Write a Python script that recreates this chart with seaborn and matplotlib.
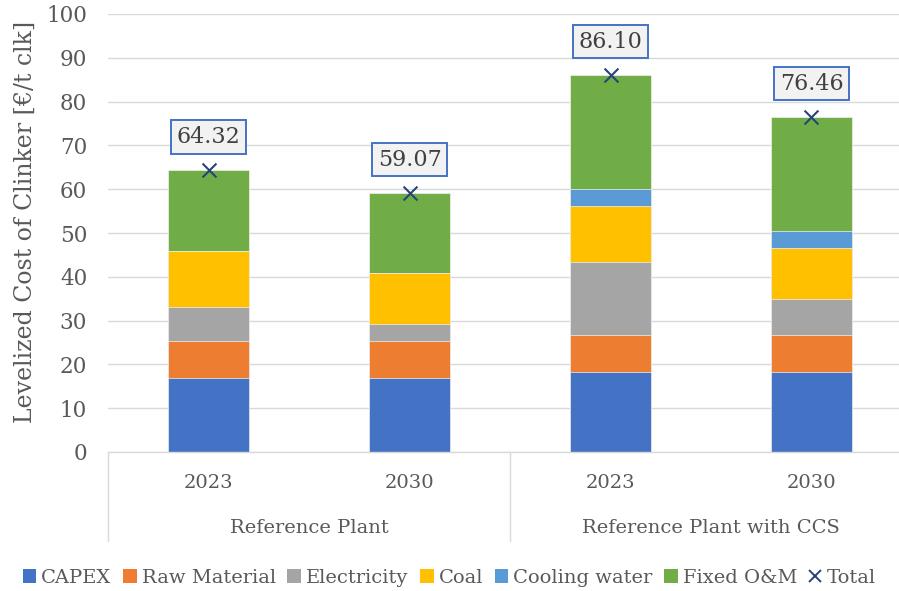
import matplotlib
matplotlib.use("Agg")
import matplotlib.pyplot as plt
import matplotlib.transforms as mtransforms
from matplotlib.lines import Line2D
from matplotlib.patches import Patch
import seaborn as sns
import pandas as pd
import numpy as np

# ---- data ----
bar_ids = ["RP-2023", "RP-2030", "CCS-2023", "CCS-2030"]
years = ["2023", "2030", "2023", "2030"]
groups = ["Reference Plant", "Reference Plant with CCS"]
components = ["CAPEX", "Raw Material", "Electricity", "Coal", "Cooling water", "Fixed O&M"]
capex = [16.96, 16.96, 18.33, 18.33]
raw_material = [8.34, 8.34, 8.30, 8.30]
electricity = [7.80, 3.90, 16.70, 8.30]
coal = [12.90, 11.70, 12.90, 11.70]
cooling_water = [0.00, 0.00, 3.80, 3.90]
totals = [64.32, 59.07, 86.10, 76.46]
fixed_om = [t - (a + b + c + d + e) for t, a, b, c, d, e in
            zip(totals, capex, raw_material, electricity, coal, cooling_water)]

colors = ["#4472C4", "#ED7D31", "#A5A5A5", "#FFC000", "#5B9BD5", "#70AD47"]
total_color = "#264478"
text_color = "#595959"

sns.set_theme(style="white")
plt.rcParams['font.family'] = ['DejaVu Serif', 'DejaVu Sans']

fig = plt.figure(figsize=(8.99, 5.91), dpi=100)
ax = fig.add_axes([108 / 899, 1 - 452 / 591, 1 - 108 / 899, 438 / 591])

series = [capex, raw_material, electricity, coal, cooling_water, fixed_om]
cum = np.cumsum(np.array(series), axis=0)
df_rows = []
for k, name in enumerate(components):
    for i, b in enumerate(bar_ids):
        df_rows.append({"bar": b, "comp": name, "top": cum[k, i]})
df = pd.DataFrame(df_rows)

# draw from the topmost cumulative down so lower segments overlap
for k in range(len(components) - 1, -1, -1):
    sub = df[df["comp"] == components[k]]
    sns.barplot(data=sub, x="bar", y="top", order=bar_ids, color=colors[k],
                width=0.4, ax=ax, saturation=1, edgecolor="#F2F2F2", linewidth=0.5,
                zorder=2)

# totals
tot_df = pd.DataFrame({"bar": bar_ids, "total": totals})
sns.scatterplot(data=tot_df, x="bar", y="total", marker="x", s=100, color=total_color,
                linewidth=1.5, ax=ax, zorder=4, legend=False)
for i, t in enumerate(totals):
    ax.annotate(f"{t:.2f}", (i, t), xytext=(0, 24), textcoords="offset points",
                ha="center", va="center", fontsize=16, color="#404040",
                bbox=dict(boxstyle="square,pad=0.25", fc="#F2F2F2", ec="#4472C4", lw=1.4),
                zorder=5)

ax.set_ylim(0, 100)
ax.set_yticks(range(0, 101, 10))
ax.set_xlim(-0.5, -0.5 + (899 - 108) / 201)
ax.yaxis.grid(True, color="#D9D9D9", linewidth=1, zorder=0)
ax.set_axisbelow(True)
for s in ["top", "right", "left"]:
    ax.spines[s].set_visible(False)
ax.spines["bottom"].set_color("#D9D9D9")
ax.spines["bottom"].set_linewidth(1)
ax.tick_params(axis="both", length=0, colors=text_color)
ax.tick_params(axis="y", pad=15, labelsize=15.5)
ax.tick_params(axis="x", pad=16, labelsize=14)
ax.set_xticks(range(4))
ax.set_xticklabels(years)
ax.set_xlabel("")
ax.set_ylabel("Levelized Cost of Clinker [€/t clk]", fontsize=17, color=text_color, labelpad=7)
ax.yaxis.label.set_y(0.525)

# group labels and separators
trans = mtransforms.blended_transform_factory(ax.transData, ax.transAxes)
ax.text(0.5, -0.174, groups[0], transform=trans, ha="center", va="center",
        fontsize=14, color=text_color)
ax.text(2.5, -0.174, groups[1], transform=trans, ha="center", va="center",
        fontsize=14, color=text_color)
for xv in [-0.5, 1.5]:
    ax.add_line(Line2D([xv, xv], [0, -0.203], transform=trans, color="#D9D9D9",
                       lw=1, clip_on=False))

handles = [Patch(facecolor=c, edgecolor="none") for c in colors]
handles.append(Line2D([], [], marker="x", color=total_color, lw=0, markersize=9, mew=1.4))
labels = components + ["Total"]
fig.legend(handles, labels, loc="center", bbox_to_anchor=(0.5, 1 - 578 / 591), ncol=7,
           frameon=False, fontsize=14, handlelength=0.7, handleheight=0.7,
           handletextpad=0.25, columnspacing=0.6, labelcolor=text_color)

fig.savefig("out.png", dpi=100)
